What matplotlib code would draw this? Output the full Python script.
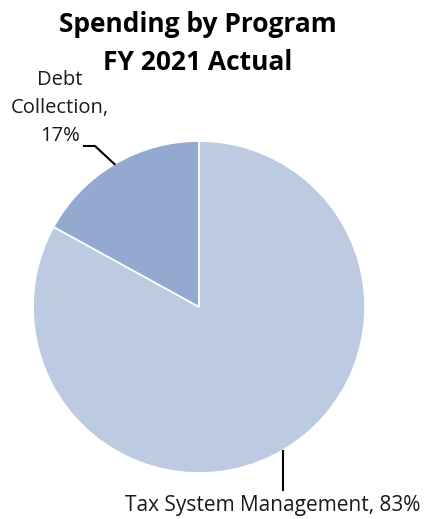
import numpy as np
import matplotlib.pyplot as plt

plt.rcParams.update({'font.family': 'Open Sans'})

# data
programs = ['Debt Collection', 'Tax System Management']
shares = [17, 83]
colors = ['#94a9d0', '#bccae2']

fig = plt.figure(figsize=(4.25, 5.19), dpi=100)
ax = fig.add_axes([0, 0, 1, 1])

H = 519
cx, cy, r = 199, H - 307, 166
wedges, _ = ax.pie(shares, colors=colors, startangle=90, counterclock=True,
                   center=(cx, cy), radius=r, frame=True,
                   wedgeprops=dict(edgecolor='white', linewidth=1.2))
ax.set_xlim(0, 425)
ax.set_ylim(0, H)
ax.set_aspect('equal')
ax.axis('off')

# leader lines from wedge mid angles
w0 = wedges[0]
mid0 = np.deg2rad((w0.theta1 + w0.theta2) / 2)
ex, ey = cx + r * np.cos(mid0), cy + r * np.sin(mid0)
ax.plot([84, 95, ex], [H - 146, H - 146, ey], color='black', lw=1.5,
        solid_joinstyle='miter')
ax.text(60, H - 108, 'Debt\nCollection,\n' + f'{shares[0]}%', ha='center', va='center',
        fontsize=14.5, linespacing=1.55, color='#1a1a1a')

w1 = wedges[1]
mid1 = np.deg2rad((w1.theta1 + w1.theta2) / 2)
ex, ey = cx + r * np.cos(mid1), cy + r * np.sin(mid1)
ax.plot([283, 283], [ey - 1, H - 490], color='black', lw=1.5)
ax.text(273, H - 506, f'{programs[1]}, {shares[1]}%', ha='center', va='center',
        fontsize=15, color='#1a1a1a')

fig.text(197.5 / 425, 1 - 25 / H, 'Spending by Program', ha='center', va='center',
         fontsize=19, fontweight='bold', color='black')
fig.text(197.5 / 425, 1 - 63 / H, 'FY 2021 Actual', ha='center', va='center',
         fontsize=19, fontweight='bold', color='black')

fig.savefig('out.png', dpi=100)
